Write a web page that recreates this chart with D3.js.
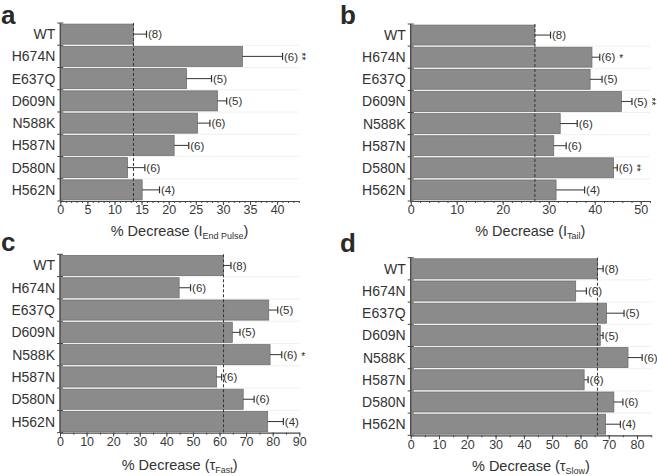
<!DOCTYPE html>
<html><head><meta charset="utf-8">
<script src="https://cdn.jsdelivr.net/npm/d3@7"></script>
<style>body{margin:0;background:#fff}svg{display:block}text{font-family:"Liberation Sans",Arial,sans-serif}</style>
</head><body><svg id="c" width="657" height="476"></svg>
<script>
const categories = ["WT","H674N","E637Q","D609N","N588K","H587N","D580N","H562N"];
const nValues = ["(8)","(6)","(5)","(5)","(6)","(6)","(6)","(4)"];

const valuesA = [13.5,33.6,23.3,29.0,25.3,21.0,12.4,15.1];
const errA    = [2.4,7.4,4.6,1.7,2.3,2.7,3.2,3.2];
const starsA  = ["","**","","","","","",""];

const valuesB = [27.0,39.4,39.0,45.8,32.5,31.1,44.1,31.6];
const errB    = [3.4,1.7,2.6,2.3,3.7,2.7,0.8,6.2];
const starsB  = ["","*","","**","","","**",""];

const valuesC = [61.4,44.8,78.5,64.8,79.0,58.9,68.9,78.1];
const errC    = [2.9,4.3,3.4,2.9,4.4,1.9,4.1,5.9];
const starsC  = ["","","","","*","","",""];

const valuesD = [66.0,58.3,69.2,67.0,76.8,61.3,71.8,68.9];
const errD    = [2.0,3.8,6.2,1.0,5.0,1.4,3.2,5.2];
const starsD  = ["","","","","","","",""];

const panels = [
  {letter:"a", vals:valuesA, err:errA, stars:starsA, ref:13.5, max:44, step:5, minor:1,
   x0:60.3, x1:298.8, y0:23, y1:201, lx:1, ly:24, label:["% Decrease (I","End Pulse",")"], lyOff:35},
  {letter:"b", vals:valuesB, err:errB, stars:starsB, ref:27.0, max:52, step:10, minor:2,
   x0:410.7, x1:649.9, y0:24, y1:201, lx:340, ly:24, label:["% Decrease (I","Tail",")"], lyOff:35},
  {letter:"c", vals:valuesC, err:errC, stars:starsC, ref:61.5, max:90, step:10, minor:5,
   x0:60, x1:299.3, y0:254.3, y1:432.7, lx:1, ly:251, label:["% Decrease (\u03c4","Fast",")"], lyOff:37},
  {letter:"d", vals:valuesD, err:errD, stars:starsD, ref:66.0, max:85, step:10, minor:5,
   x0:410.7, x1:651.2, y0:257.7, y1:435.3, lx:340, ly:252, label:["% Decrease (\u03c4","Slow",")"], lyOff:36}
];

const svg = d3.select("#c");
const axisColor = "#444";
const textColor = "#333";
const barColor = "#8b8b8b";

panels.forEach(p => {
  const g = svg.append("g");
  const x = d3.scaleLinear().domain([0,p.max]).range([p.x0,p.x1]);
  const y = d3.scaleBand().domain(categories).range([p.y0,p.y1]).paddingInner(0.1).paddingOuter(0.05);
  const cy = c => y(c) + y.bandwidth()/2;
  const bandStep = (p.y1-p.y0)/categories.length;

  // faint separators
  d3.range(1,categories.length).forEach(i => {
    g.append("line").attr("x1",p.x0).attr("x2",p.x1)
      .attr("y1",p.y0+bandStep*i).attr("y2",p.y0+bandStep*i)
      .attr("stroke","#f0f0f0").attr("stroke-width",1);
  });

  // bars
  g.selectAll("rect.bar").data(categories).enter().append("rect")
    .attr("x",x(0)).attr("y",c=>y(c))
    .attr("width",(c,i)=>x(p.vals[i])-x(0)).attr("height",y.bandwidth())
    .attr("fill",barColor).attr("stroke","#707070").attr("stroke-width",0.8);

  // error bars
  categories.forEach((c,i) => {
    const xe = x(p.vals[i]+p.err[i]);
    g.append("line").attr("x1",x(p.vals[i])).attr("x2",xe).attr("y1",cy(c)).attr("y2",cy(c))
      .attr("stroke","#333").attr("stroke-width",1);
    g.append("line").attr("x1",xe).attr("x2",xe).attr("y1",cy(c)-3.5).attr("y2",cy(c)+3.5)
      .attr("stroke","#333").attr("stroke-width",1.2);
    const t = g.append("text").attr("x",xe+1.5).attr("y",cy(c)).attr("dy","0.36em")
      .attr("font-size",11.5).attr("fill",textColor).text(nValues[i]);
    const tw = t.node().getComputedTextLength();
    const s = p.stars[i];
    const scx = xe+1.5+tw+6;   // desired visual centre of the star mark
    if (s === "*") {
      g.append("text").attr("x",scx-2).attr("y",cy(c)+5).attr("font-size",10).attr("fill","#222").text("*");
    } else if (s === "**") {
      g.append("text").attr("transform",`translate(${scx-6},${cy(c)}) rotate(90)`)
        .attr("text-anchor","middle").attr("font-size",10)
        .attr("fill","#222").text("**");
    }
  });

  // dashed reference line
  g.append("line").attr("x1",x(p.ref)).attr("x2",x(p.ref)).attr("y1",p.y0).attr("y2",p.y1)
    .attr("stroke","#333").attr("stroke-width",1).attr("stroke-dasharray","3,2");

  // y axis
  g.append("line").attr("x1",p.x0).attr("x2",p.x0).attr("y1",p.y0).attr("y2",p.y1)
    .attr("stroke",axisColor).attr("stroke-width",1.2);
  d3.range(categories.length+1).forEach(i => {
    const yy = p.y0+bandStep*i;
    g.append("line").attr("x1",p.x0-3).attr("x2",p.x0+3).attr("y1",yy).attr("y2",yy)
      .attr("stroke",axisColor).attr("stroke-width",1);
  });
  categories.forEach(c => {
    g.append("text").attr("x",p.x0-5).attr("y",cy(c)).attr("dy","0.36em")
      .attr("text-anchor","end").attr("font-size",14).attr("fill",textColor).text(c);
  });

  // x axis
  const ax = g.append("g").attr("transform",`translate(0,${p.y1})`);
  ax.call(d3.axisBottom(x).tickValues(d3.range(0,p.max+0.001,p.minor)).tickSize(2).tickSizeOuter(0).tickFormat(""));
  const ax2 = g.append("g").attr("transform",`translate(0,${p.y1})`);
  ax2.call(d3.axisBottom(x).tickValues(d3.range(0,p.max+0.001,p.step)).tickSize(4).tickFormat(d3.format("d")).tickSizeOuter(0));
  ax2.select(".domain").remove();
  ax.selectAll(".domain").attr("stroke",axisColor).attr("stroke-width",1.2);
  g.selectAll(".tick line").attr("stroke",axisColor);
  ax2.selectAll(".tick text").attr("font-size",12.5).attr("fill","#3a3a3a")
    .attr("font-family","Liberation Sans, Arial, sans-serif").attr("y",4.5).attr("dy","0.71em");

  // x label
  const lt = g.append("text").attr("x",(p.x0+p.x1)/2).attr("y",p.y1+p.lyOff)
    .attr("text-anchor","middle").attr("font-size",14.5).attr("fill",textColor);
  lt.append("tspan").text(p.label[0]);
  lt.append("tspan").attr("font-size",9).attr("dy",3).text(p.label[1]);
  lt.append("tspan").attr("dy",-3).text(p.label[2]);

  // panel letter
  g.append("text").attr("x",p.lx).attr("y",p.ly).attr("font-size",26).attr("font-weight","bold")
    .attr("fill","#2a2a2a").text(p.letter);
});
</script></body></html>
